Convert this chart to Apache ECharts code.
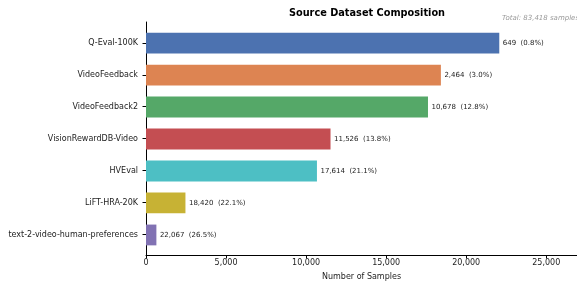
<!DOCTYPE html>
<html><head><meta charset="utf-8">
<script src="https://cdn.jsdelivr.net/npm/echarts@6/dist/echarts.min.js"></script>
<style>html,body{margin:0;padding:0;background:#fff}#c{width:577px;height:286px}</style>
</head><body><div id="c"></div>
<script>
const categories = ["Q-Eval-100K","VideoFeedback","VideoFeedback2","VisionRewardDB-Video","HVEval","LiFT-HRA-20K","text-2-video-human-preferences"];
const values = [22067, 18420, 17614, 11526, 10678, 2464, 649];
const barLabels = ["649  (0.8%)","2,464  (3.0%)","10,678  (12.8%)","11,526  (13.8%)","17,614  (21.1%)","18,420  (22.1%)","22,067  (26.5%)"];
const colors = ["#4C72B0","#DD8452","#55A868","#C44E52","#4DBFC4","#C7B234","#8172B3"];
const titleText = "Source Dataset Composition";
const totalText = "Total: 83,418 samples";

const font = "DejaVu Sans";
const xMax = 22067 * 1.22;
const gTop = 22, gBottom = 30, gH = 286 - gTop - gBottom;
const band = gH / 7.315, pad = band * 0.1575;
const idx = categories.map((_, i) => i);

const chart = echarts.init(document.getElementById('c'), null, {renderer: 'canvas'});
chart.setOption({
  animation: false,
  textStyle: {fontFamily: font},
  title: [
    {text: titleText, left: 362, top: 3, textAlign: 'center',
     textStyle: {fontFamily: font, fontSize: 9.75, fontWeight: 'bold', color: '#000'}},
    {text: totalText, left: 497, top: 10,
     textStyle: {fontFamily: font, fontSize: 7, fontStyle: 'italic', fontWeight: 'normal', color: '#999'}}
  ],
  grid: [
    {left: 146, right: 0, top: gTop + pad, bottom: gBottom + pad},
    {left: 146, right: 0, top: gTop, bottom: gBottom}
  ],
  xAxis: [
    {gridIndex: 0, type: 'value', min: 0, max: xMax, show: false, splitLine: {show: false}},
    {gridIndex: 1, type: 'value', min: 0, max: xMax, interval: 5000, position: 'bottom',
     axisLine: {show: true, onZero: false, lineStyle: {color: '#000', width: 1}},
     axisTick: {show: true, length: 3.5, lineStyle: {color: '#000'}},
     axisLabel: {fontSize: 8, color: '#222', margin: 4, showMaxLabel: false,
       formatter: v => v.toLocaleString('en-US')},
     splitLine: {show: false},
     name: 'Number of Samples', nameLocation: 'middle', nameGap: 18,
     nameTextStyle: {fontSize: 8, color: '#222', fontFamily: font}}
  ],
  yAxis: [
    {gridIndex: 0, type: 'category', data: categories, inverse: true,
     axisLine: {show: false},
     axisTick: {show: false},
     axisLabel: {fontSize: 8, color: '#222', margin: 8},
     splitLine: {show: false}},
    {gridIndex: 1, type: 'value', inverse: true, min: -0.6575, max: 6.6575, position: 'left',
     axisLine: {show: true, onZero: false, lineStyle: {color: '#000', width: 1}},
     axisTick: {show: true, length: 3.5, lineStyle: {color: '#000'}, customValues: idx},
     axisLabel: {show: false}, splitLine: {show: false}}
  ],
  series: [{
    type: 'bar', xAxisIndex: 0, yAxisIndex: 0,
    barWidth: '65%',
    data: values.map((v, i) => ({value: v, itemStyle: {color: colors[i]},
      label: {formatter: barLabels[i]}})),
    label: {show: true, position: 'right', distance: 3.5, fontSize: 7, color: '#222', fontFamily: font}
  }]
});
</script></body></html>
